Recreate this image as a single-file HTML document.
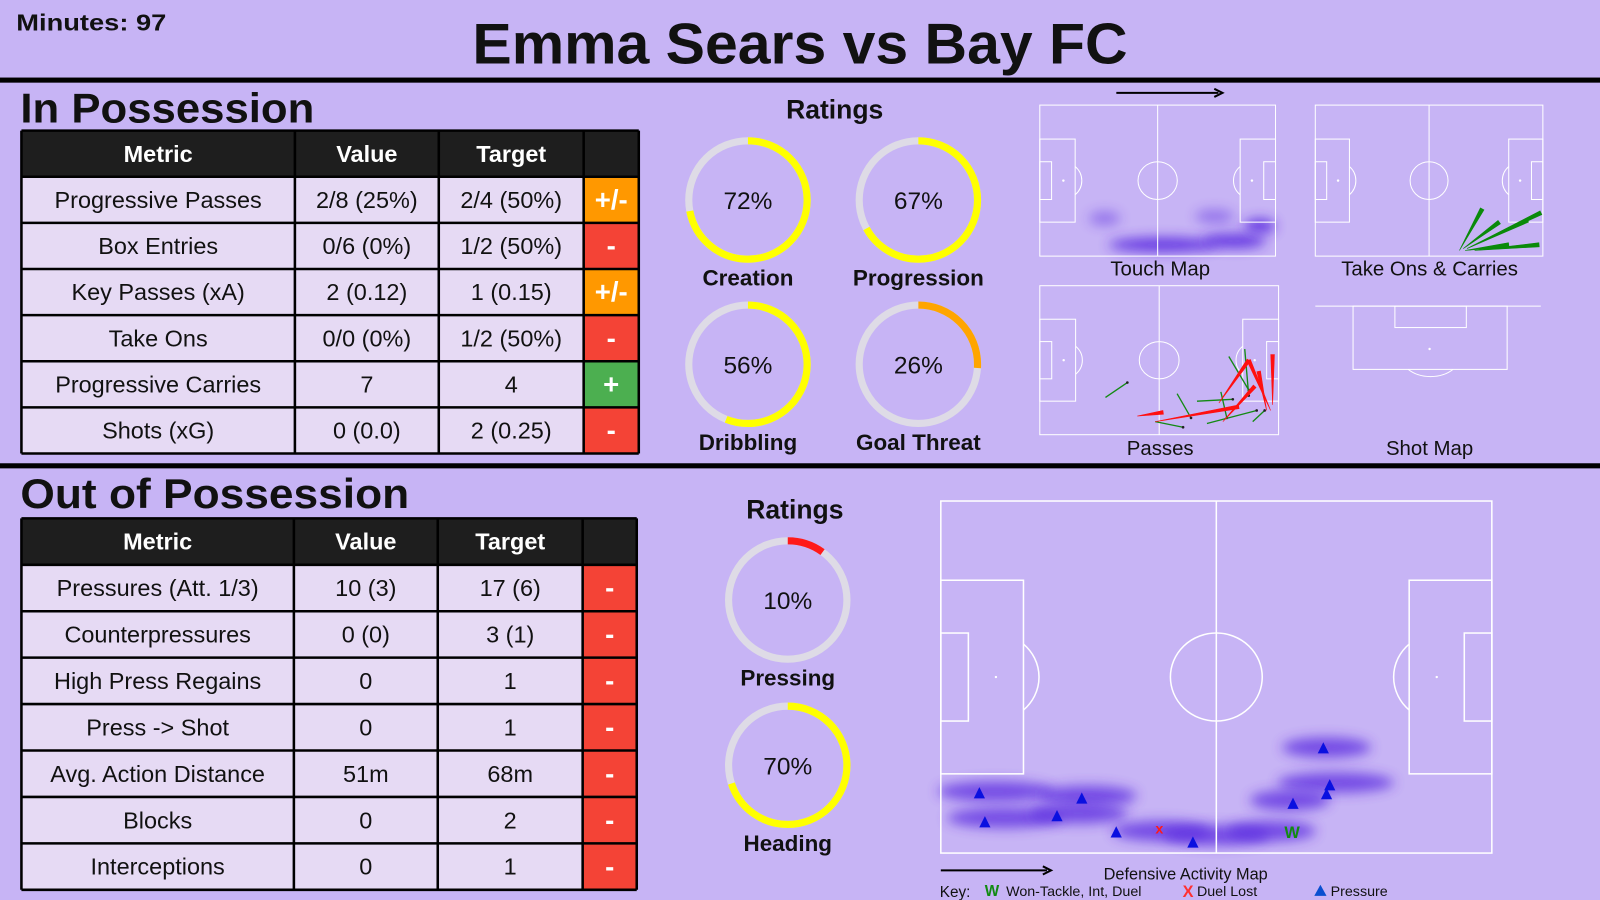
<!DOCTYPE html>
<html><head><meta charset="utf-8">
<style>
html,body{margin:0;padding:0;background:#c7b4f5;}
svg{display:block;font-family:"Liberation Sans",sans-serif;}
</style></head>
<body>
<svg id="root" width="1600" height="900" viewBox="0 0 1568 882" xmlns="http://www.w3.org/2000/svg">
<defs>
<filter id="blur" x="-50%" y="-200%" width="200%" height="500%"><feGaussianBlur stdDeviation="6"/></filter>
</defs>
<rect width="1568" height="882" fill="#c7b4f5"/>
<text x="16" y="30" font-size="23" font-weight="bold" fill="#111" textLength="147" lengthAdjust="spacingAndGlyphs">Minutes: 97</text>
<text x="463" y="62" font-size="56" font-weight="bold" fill="#111" textLength="642" lengthAdjust="spacingAndGlyphs">Emma Sears vs Bay FC</text>
<rect x="0" y="76" width="1568" height="5" fill="#000"/>
<text x="20" y="120" font-size="41" font-weight="bold" fill="#111" textLength="288" lengthAdjust="spacingAndGlyphs">In Possession</text>
<rect x="0" y="454" width="1568" height="5" fill="#000"/>
<text x="20" y="498" font-size="41" font-weight="bold" fill="#111" textLength="381" lengthAdjust="spacingAndGlyphs">Out of Possession</text>
<g id="tables"></g>
<text x="818" y="116" font-size="26" font-weight="bold" text-anchor="middle" fill="#111">Ratings</text>
<text x="779" y="508" font-size="26" font-weight="bold" text-anchor="middle" fill="#111">Ratings</text>
<g id="donuts"></g>
<g id="minimaps"></g>
<g id="bigpitch"></g>
</svg>
<script>
// ---------- data ----------
const inRows = ["Progressive Passes","Box Entries","Key Passes (xA)","Take Ons","Progressive Carries","Shots (xG)"];
const inValues = ["2/8 (25%)","0/6 (0%)","2 (0.12)","0/0 (0%)","7","0 (0.0)"];
const inTargets = ["2/4 (50%)","1/2 (50%)","1 (0.15)","1/2 (50%)","4","2 (0.25)"];
const inStatus = ["+/-","-","+/-","-","+","-"];
const outRows = ["Pressures (Att. 1/3)","Counterpressures","High Press Regains","Press -> Shot","Avg. Action Distance","Blocks","Interceptions"];
const outValues = ["10 (3)","0 (0)","0","0","51m","0","0"];
const outTargets = ["17 (6)","3 (1)","1","1","68m","2","1"];
const outStatus = ["-","-","-","-","-","-","-"];
const ratingLabels = ["Creation","Progression","Dribbling","Goal Threat","Pressing","Heading"];
const ratingValues = [72,67,56,26,10,70];
// defensive map events (pitch coords 0-120 x, 0-80 y)
const pressX = [8.4,30.7,25.3,9.6,38.2,54.9,83.3,84.7,84.0,76.7];
const pressY = [66.4,67.6,71.6,73.0,75.3,77.6,56.2,64.6,66.6,68.8];
const lostX = [47.6]; const lostY = [74.4];
const wonX = [76.5]; const wonY = [74.9];
const heatX = [12,32,14,30,48,60,72,86,84,76];
const heatY = [66,67,72,71,75,76,75,64,56,68];
const heatW = [20,16,20,16,16,18,14,20,14,12];
// passes (mini pitch 120x80 coords)
const passGreenX1=[33,69,79,91,58,84,95,103,107]; const passGreenY1=[60,58,62,57,73,74,38,34,73];
const passGreenX2=[44,76,97,94,72,109,105,105,113]; const passGreenY2=[52,71,61,71,76,67,56,59,67];
const passRedX1=[49,58,90,92,116,114,117]; const passRedY1=[70,73,63,73,67,67,64];
const passRedX2=[62,100,105,108,105,110,117]; const passRedY2=[68,65,40,54,40,46,37];
const carryX1=[76,78,80,82,79,84]; const carryY1=[77,76,76,75,77,77];
const carryX2=[88,97,112,119,102,118]; const carryY2=[55,62,61,57,74,74];
const touchX=[63,99,112,89,33]; const touchY=[74,72,64,59,60]; const touchW=[28,16,8,10,8];

const NS="http://www.w3.org/2000/svg";
function el(tag,attrs,parent,txt){const e=document.createElementNS(NS,tag);for(const k in attrs)e.setAttribute(k,attrs[k]);if(txt!==undefined)e.textContent=txt;parent.appendChild(e);return e;}

// ---------- tables ----------
const tg=document.getElementById('tables');
function table(x0,y0,cols,rowH,rows,vals,tars,stat,prefix){
  const total=cols[cols.length-1]-cols[0];
  const nr=rows.length;
  const h=el('rect',{x:cols[0],y:y0,width:total,height:rowH,fill:"#1e1e1e"},tg);
  
  
  const heads=["Metric","Value","Target",""];
  for(let c=0;c<3;c++){
    const t=el('text',{x:(cols[c]+cols[c+1])/2,y:y0+rowH/2+8,'text-anchor':'middle','font-size':23,'font-weight':'bold',fill:'#fff'},tg,heads[c]);
    
    
  }
  const colors={"+/-":"#ff9800","-":"#f44336","+":"#4caf50"};
  for(let r=0;r<nr;r++){
    const y=y0+rowH*(r+1);
    const bg=el('rect',{x:cols[0],y:y,width:cols[3]-cols[0],height:rowH,fill:"#e6daf4"},tg);
    
    
    const sb=el('rect',{x:cols[3],y:y,width:cols[4]-cols[3],height:rowH,fill:colors[stat[r]]},tg);
    
    
    const cells=[rows[r],vals[r],tars[r]];
    for(let c=0;c<3;c++){
      const t=el('text',{x:(cols[c]+cols[c+1])/2,y:y+rowH/2+8,'text-anchor':'middle','font-size':23,fill:'#111'},tg,cells[c]);
      
      
    }
    const st=el('text',{x:(cols[3]+cols[4])/2,y:y+rowH/2+9,'text-anchor':'middle','font-size':27,'font-weight':'bold',fill:'#fff'},tg,stat[r]);
    
    
  }
  const yEnd=y0+rowH*(nr+1);
  for(let r=0;r<=nr+1;r++){el('line',{x1:cols[0],x2:cols[4],y1:y0+rowH*r,y2:y0+rowH*r,stroke:'#000','stroke-width':2.5},tg);}
  cols.forEach(c=>el('line',{x1:c,x2:c,y1:y0,y2:yEnd,stroke:'#000','stroke-width':2.5},tg));
}
table(21,128,[21,289,430,572,626],45.2,inRows,inValues,inTargets,inStatus,'in-possession');
table(21,508,[21,288,429,571,624],45.5,outRows,outValues,outTargets,outStatus,'out-possession');

// ---------- donuts ----------
const dg=document.getElementById('donuts');
const centers=[[733,196],[900,196],[733,357],[900,357],[772,588],[772,750]];
function ratingColor(v){return v<=15?'#ff1a1a':(v<40?'#ffa500':'#ffff00');}
ratingValues.forEach((v,i)=>{
  const [cx,cy]=centers[i]; const r=58; const C=2*Math.PI*r;
  const bgc=el('circle',{cx,cy,r,fill:'none',stroke:'#dedbe6','stroke-width':7},dg);
  
  
  const arc=el('circle',{cx,cy,r,fill:'none',stroke:ratingColor(v),'stroke-width':7,'stroke-dasharray':(C*v/100)+' '+C,transform:`rotate(-90 ${cx} ${cy})`},dg);
  
  
  const t=el('text',{x:cx,y:cy+9,'text-anchor':'middle','font-size':24,fill:'#111'},dg,v+'%');
  
  
  const l=el('text',{x:cx,y:cy+84,'text-anchor':'middle','font-size':22,'font-weight':'bold',fill:'#111'},dg,ratingLabels[i]);
  
  
});

// ---------- pitch drawing ----------
function pitch(g,x0,y0,w,h,sw){
  const sx=w/120, sy=h/80, s={fill:'none',stroke:'#fff','stroke-width':sw};
  el('rect',Object.assign({x:x0,y:y0,width:w,height:h},s),g);
  el('line',Object.assign({x1:x0+w/2,x2:x0+w/2,y1:y0,y2:y0+h},s),g);
  el('ellipse',Object.assign({cx:x0+w/2,cy:y0+h/2,rx:10*sx,ry:10*sy},s),g);
  [[0,1],[120,-1]].forEach(([bx,d])=>{
    const X=x0+bx*sx;
    el('rect',Object.assign({x:d>0?X:X-18*sx,y:y0+18*sy,width:18*sx,height:44*sy},s),g);
    el('rect',Object.assign({x:d>0?X:X-6*sx,y:y0+30*sy,width:6*sx,height:20*sy},s),g);
    const ax=X+d*18*sx;
    el('path',Object.assign({d:`M${ax} ${y0+32.5*sy} A ${10*sx} ${10*sy} 0 0 ${d>0?1:0} ${ax} ${y0+47.5*sy}`},s),g);
    el('circle',{cx:X+d*12*sx,cy:y0+40*sy,r:1.2,fill:'#fff'},g);
  });
}
const mg=document.getElementById('minimaps');
function mini(name,x0,y0,w,h){const g=el('g',{},mg);return {g,x:v=>x0+v*w/120,y:v=>y0+v*h/80,x0,y0,w,h};}
// arrow
el('line',{x1:1094,x2:1194,y1:91,y2:91,stroke:'#000','stroke-width':2},mg);
el('path',{d:'M1190 87 L1198 91 L1190 95',fill:'none',stroke:'#000','stroke-width':2},mg);
// touch map
const tm=mini('touch-map',1019,103,231,148);
touchX.forEach((v,i)=>{const e=el('ellipse',{cx:tm.x(v),cy:tm.y(touchY[i]),rx:touchW[i]*tm.w/120,ry:7,fill:'#5a2ae0',opacity:i>=3?0.45:0.9,filter:'url(#blur)'},tm.g);
  
  });
pitch(tm.g,1019,103,231,148,1);
el('text',{x:1137,y:270,'text-anchor':'middle','font-size':20,fill:'#111'},mg,'Touch Map');
// take ons
const tk=mini('take-ons-map',1289,103,223,148);
pitch(tk.g,1289,103,223,148,1);
carryX1.forEach((v,i)=>{const x1=tk.x(v),y1=tk.y(carryY1[i]),x2=Math.min(tk.x(carryX2[i]),1512),y2=tk.y(carryY2[i]);
  const dx=x2-x1,dy=y2-y1,L=Math.hypot(dx,dy),nx=-dy/L*2,ny=dx/L*2;
  const l=el('path',{d:`M${x1} ${y1} L${x2+nx} ${y2+ny} L${x2-nx} ${y2-ny} Z`,fill:'#0a8a0a',stroke:'#0a8a0a','stroke-width':0.6},tk.g);
  
  });
el('text',{x:1401,y:270,'text-anchor':'middle','font-size':20,fill:'#111'},mg,'Take Ons & Carries');
// passes
const pm=mini('passes-map',1019,280,234,146);
pitch(pm.g,1019,280,234,146,1);
passGreenX1.forEach((v,i)=>{const l=el('line',{x1:pm.x(v),y1:pm.y(passGreenY1[i]),x2:pm.x(passGreenX2[i]),y2:pm.y(passGreenY2[i]),stroke:'#138a13','stroke-width':1.3},pm.g);
  
  
  el('circle',{cx:pm.x(passGreenX2[i]),cy:pm.y(passGreenY2[i]),r:1.3,fill:'#222'},pm.g);});
passRedX1.forEach((v,i)=>{const x1=pm.x(v),y1=pm.y(passRedY1[i]),x2=pm.x(passRedX2[i]),y2=pm.y(passRedY2[i]);
  const dx=x2-x1,dy=y2-y1,L=Math.hypot(dx,dy),nx=-dy/L*1.8,ny=dx/L*1.8;
  const l=el('path',{d:`M${x1} ${y1} L${x2+nx} ${y2+ny} L${x2-nx} ${y2-ny} Z`,fill:'#ff1010',stroke:'#ff1010','stroke-width':0.6},pm.g);
  
  });
el('text',{x:1137,y:446,'text-anchor':'middle','font-size':20,fill:'#111'},mg,'Passes');
// shot map (half pitch)
const sm=el('g',{},mg);


const ss={fill:'none',stroke:'#fff','stroke-width':1};
el('line',Object.assign({x1:1289,x2:1510,y1:300,y2:300},ss),sm);
el('rect',Object.assign({x:1326,y:300,width:151,height:62},ss),sm);
el('rect',Object.assign({x:1367,y:300,width:70,height:21},ss),sm);
el('path',Object.assign({d:'M1380 362 A 30 22 0 0 0 1424 362'},ss),sm);
el('circle',{cx:1401,cy:342,r:1.2,fill:'#fff'},sm);
el('text',{x:1401,y:446,'text-anchor':'middle','font-size':20,fill:'#111'},mg,'Shot Map');

// ---------- defensive map ----------
const bg=document.getElementById('bigpitch');


const bx0=922,by0=491,bw=540,bh=345;
const X=v=>bx0+v*bw/120, Y=v=>by0+v*bh/80;
heatX.forEach((v,i)=>{const e=el('ellipse',{cx:X(v),cy:Y(heatY[i]),rx:heatW[i]*bw/120/2+12,ry:10,fill:'#5a2ae0',opacity:0.75,filter:'url(#blur)'},bg);
  
  });
pitch(bg,bx0,by0,bw,bh,1.5);
pressX.forEach((v,i)=>{const x=X(v),y=Y(pressY[i]);const t=el('path',{d:`M${x} ${y-6} L${x+5.5} ${y+5} L${x-5.5} ${y+5} Z`,fill:'#0a10e0'},bg);
  
  });
lostX.forEach((v,i)=>{const t=el('text',{x:X(v),y:Y(lostY[i])+5,'text-anchor':'middle','font-size':14,'font-weight':'bold',fill:'#ff1a1a'},bg,'x');
  
  });
wonX.forEach((v,i)=>{const t=el('text',{x:X(v),y:Y(wonY[i])+7,'text-anchor':'middle','font-size':16,'font-weight':'bold',fill:'#128a12'},bg,'W');
  
  });
el('line',{x1:922,x2:1026,y1:853,y2:853,stroke:'#000','stroke-width':2},bg);
el('path',{d:'M1022 849 L1030 853 L1022 857',fill:'none',stroke:'#000','stroke-width':2},bg);
el('text',{x:1162,y:862,'text-anchor':'middle','font-size':16,fill:'#111'},bg,'Defensive Activity Map');
const key=el('g',{},bg);


el('text',{x:921,y:879,'font-size':15,fill:'#111'},key,'Key:');
el('text',{x:965,y:878,'font-size':15,'font-weight':'bold',fill:'#128a12'},key,'W');
el('text',{x:986,y:878,'font-size':14,fill:'#111'},key,'Won-Tackle, Int, Duel');
el('text',{x:1159,y:879,'font-size':16,'font-weight':'bold',fill:'#ff3030'},key,'X');
el('text',{x:1173,y:878,'font-size':14,fill:'#111'},key,'Duel Lost');
el('path',{d:'M1294 867 L1300 878 L1288 878 Z',fill:'#0a4fd0'},key);
el('text',{x:1304,y:878,'font-size':14,fill:'#111'},key,'Pressure');
</script>
</body></html>
